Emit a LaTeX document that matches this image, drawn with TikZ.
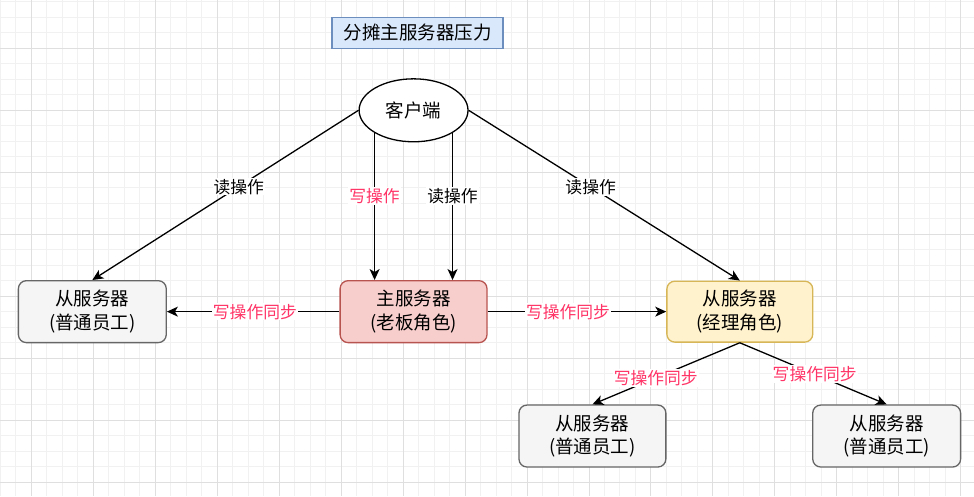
\documentclass[tikz,border=0pt]{standalone}
\usepackage{fontspec}
\setmainfont{Noto Sans CJK SC}
\usepackage{xcolor}
\usetikzlibrary{arrows.meta,shapes.geometric}
\definecolor{gridminor}{HTML}{F1F1F1}
\definecolor{gridmajor}{HTML}{DFDFDF}
\definecolor{syncred}{HTML}{FF3366}
\definecolor{titlefill}{HTML}{DAE8FC}
\definecolor{titledraw}{HTML}{6C8EBF}
\definecolor{grayfill}{HTML}{F5F5F5}
\definecolor{graydraw}{HTML}{666666}
\definecolor{redfill}{HTML}{F8CECC}
\definecolor{reddraw}{HTML}{B85450}
\definecolor{yellowfill}{HTML}{FFF2CC}
\definecolor{yellowdraw}{HTML}{D6B656}

\begin{document}
\begin{tikzpicture}[x=1pt,y=-1pt,
	server/.style={draw, rounded corners=8pt, line width=1.3pt, minimum width=147pt, minimum height=62pt, inner sep=0pt, align=center, font=\fontsize{18.5}{24}\selectfont},
	slavebox/.style={server, fill=grayfill, draw=graydraw},
	arr/.style={line width=1.3pt, -{Stealth[length=11pt,width=10pt,inset=3pt]}},
	lbl/.style={fill=white, inner sep=1pt, font=\fontsize{16.8}{17}\selectfont},
	lblred/.style={lbl, text=syncred}]
	% background grid
	\fill[white] (0,0) rectangle (974,496);
	\foreach \gx in {0,15.5,...,974}
	{
	\draw[gridminor, line width=0.8pt] (\gx,0) to (\gx,496);
	}
	\foreach \gy in {1.5,17,...,496}
	{
	\draw[gridminor, line width=0.8pt] (0,\gy) to (974,\gy);
	}
	\foreach \gx in {31,93,...,974}
	{
	\draw[gridmajor, line width=0.8pt] (\gx,0) to (\gx,496);
	}
	\foreach \gy in {48,110,...,496}
	{
	\draw[gridmajor, line width=0.8pt] (0,\gy) to (974,\gy);
	}
	\useasboundingbox (0,0) rectangle (974,496);

	% nodes
	\node[draw=titledraw, fill=titlefill, line width=1.3pt, minimum width=171pt, minimum height=31pt, inner sep=0pt, font=\fontsize{18.5}{22}\selectfont] (title) at (417.5,32.5) {分摊主服务器压力};
	\node[draw, ellipse, fill=white, line width=1.3pt, minimum width=109pt, minimum height=63pt, inner sep=0pt, font=\fontsize{18.5}{22}\selectfont] (client) at (413.5,110) {客户端};
	\node[slavebox, minimum width=148pt] (slaveL) at (92,311.5) {从服务器\\(普通员工)};
	\node[server, fill=redfill, draw=reddraw] (master) at (413.5,311.5) {主服务器\\(老板角色)};
	\node[server, fill=yellowfill, draw=yellowdraw, minimum width=146pt, minimum height=61pt] (manager) at (740,311.5) {从服务器\\(经理角色)};
	\node[slavebox] (slaveA) at (592.5,436) {从服务器\\(普通员工)};
	\node[slavebox, minimum width=148pt] (slaveB) at (887,436) {从服务器\\(普通员工)};

	% read and write requests
	\draw[arr] (client.west) to node[lbl, pos=0.45]{读操作} (slaveL.north);
	\draw[arr] (client.east) to node[lbl, pos=0.45]{读操作} (manager.north);
	\draw[arr] (client.south west) to node[lblred, pos=0.43]{写操作} (client.south west |- master.north);
	\draw[arr] (client.south east) to node[lbl, pos=0.43]{读操作} (client.south east |- master.north);

	% synchronisation
	\draw[arr] (master.west) to node[lblred, pos=0.49]{写操作同步} (slaveL.east);
	\draw[arr] (master.east) to node[lblred, pos=0.45]{写操作同步} (manager.west);
	\draw[arr] (manager.south) to node[lblred, pos=0.57]{写操作同步} (slaveA.north);
	\draw[arr] (manager.south) to node[lblred, pos=0.51]{写操作同步} (slaveB.north);
\end{tikzpicture}
\end{document}
